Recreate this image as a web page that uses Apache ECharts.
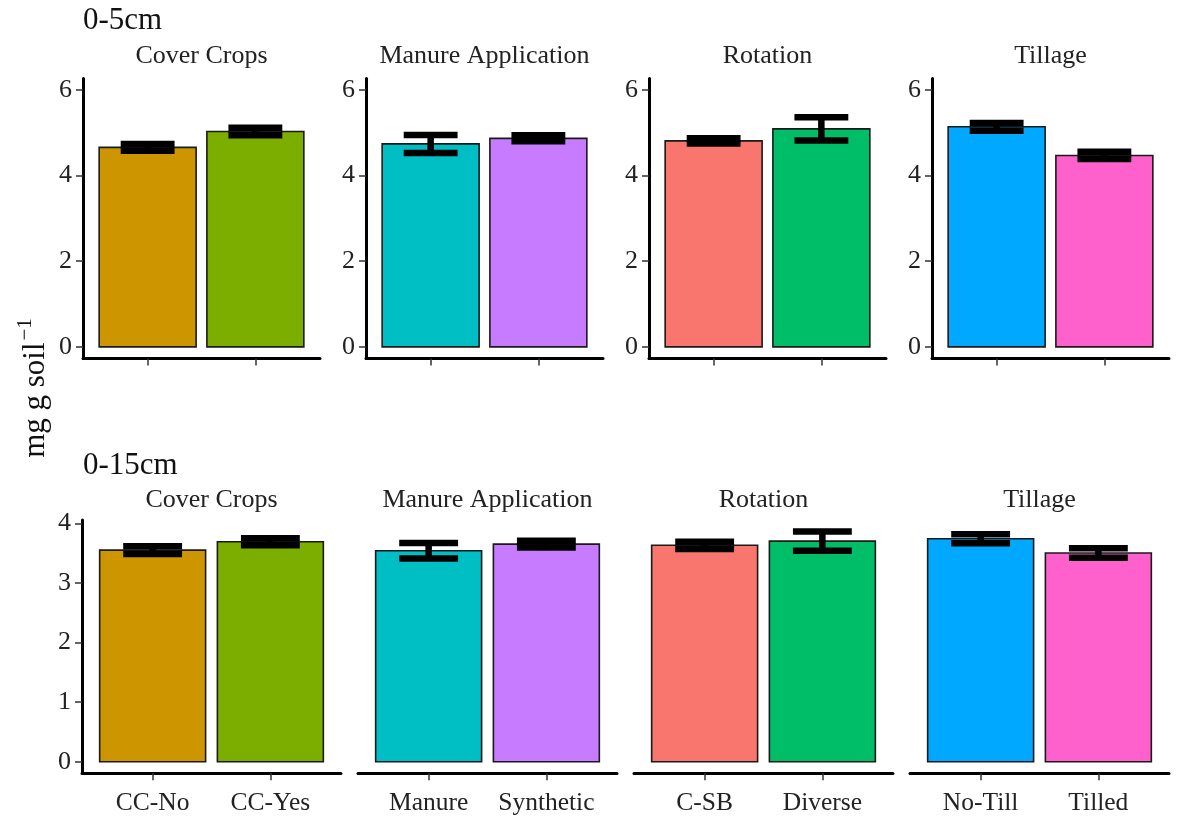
<!DOCTYPE html>
<html>
<head>
<meta charset="utf-8">
<style>html,body{margin:0;padding:0;background:#fff}#c{width:1178px;height:821px}</style>
<script src="https://cdn.jsdelivr.net/npm/echarts@6/dist/echarts.min.js"></script>
</head>
<body>
<div id="c"></div>
<script>
// ---- data ----
const facets = ['Cover Crops', 'Manure Application', 'Rotation', 'Tillage'];
const categories = ['CC-No', 'CC-Yes', 'Manure', 'Synthetic', 'C-SB', 'Diverse', 'No-Till', 'Tilled'];
const barColors = ['#CD9600', '#7CAE00', '#00BFC4', '#C77CFF', '#F8766D', '#00BE67', '#00A9FF', '#FF61CC'];
const mean0to5 = [4.66, 5.03, 4.74, 4.87, 4.81, 5.09, 5.14, 4.47];
const se0to5 = [0.08, 0.09, 0.21, 0.07, 0.06, 0.27, 0.09, 0.085];
const mean0to15 = [3.55, 3.69, 3.54, 3.65, 3.63, 3.70, 3.74, 3.50];
const se0to15 = [0.065, 0.06, 0.13, 0.055, 0.06, 0.16, 0.075, 0.08];
const ticks0to5 = [0, 2, 4, 6];
const ticks0to15 = [0, 1, 2, 3, 4];
const rowTitles = ['0-5cm', '0-15cm'];
const yTitle = 'mg g soil';
const ySup = '\u22121';

// ---- layout ----
const FONT = '"Liberation Serif", "Times New Roman", serif';
const rows = [
  { means: mean0to5, ses: se0to5, ticks: ticks0to5, min: -0.27, max: 6.27, top: 78.4, height: 280,
    left0: 83, pitch: 283, width: 237, showX: false, yAll: true, strip: 56, title: 21 },
  { means: mean0to15, ses: se0to15, ticks: ticks0to15, min: -0.193, max: 4.053, top: 520.1, height: 253.1,
    left0: 82, pitch: 276, width: 259, showX: true, yAll: false, strip: 500, title: 466 }
];

const grids = [], xAxes = [], yAxes = [], series = [], graphics = [];
rows.forEach((r, ri) => {
  graphics.push({ type: 'text', x: 83, y: r.title,
    style: { text: rowTitles[ri], font: '31px ' + FONT, fill: '#111', verticalAlign: 'middle' } });
  facets.forEach((f, fi) => {
    const gi = ri * 4 + fi;
    const left = r.left0 + fi * r.pitch;
    grids.push({ left: left, top: r.top, width: r.width, height: r.height, containLabel: false });
    graphics.push({ type: 'text', x: left + r.width / 2, y: r.strip,
      style: { text: f, font: '26px ' + FONT, fill: '#222', align: 'center', verticalAlign: 'middle' } });
    const cats = [categories[fi * 2], categories[fi * 2 + 1]];
    xAxes.push({
      type: 'value', gridIndex: gi, min: 0.4, max: 2.6,
      axisLine: { show: true, onZero: false, lineStyle: { color: '#000', width: 3 } },
      axisTick: { show: true, customValues: [1, 2], length: 7, lineStyle: { color: '#333', width: 1.5 } },
      axisLabel: { show: r.showX, customValues: [1, 2], margin: 17,
        formatter: v => cats[Math.round(v) - 1] || '',
        fontFamily: FONT, fontSize: 25.5, color: '#222' },
      splitLine: { show: false }
    });
    const showY = r.yAll || fi === 0;
    yAxes.push({
      type: 'value', gridIndex: gi, min: r.min, max: r.max,
      axisLine: { show: showY, lineStyle: { color: '#000', width: 3 } },
      axisTick: { show: showY, customValues: r.ticks, length: 7, lineStyle: { color: '#333', width: 1.5 } },
      axisLabel: { show: showY, customValues: r.ticks, margin: 11, fontFamily: FONT, fontSize: 26, color: '#222' },
      splitLine: { show: false }
    });
    const barData = [0, 1].map(k => ({ value: [k + 1, r.means[fi * 2 + k]], color: barColors[fi * 2 + k] }));
    series.push({
      type: 'custom', xAxisIndex: gi, yAxisIndex: gi, z: 2,
      data: barData.map(d => d.value),
      renderItem: (params, api) => {
        const x = api.value(0), v = api.value(1);
        const p0 = api.coord([x - 0.45, v]);
        const p1 = api.coord([x + 0.45, 0]);
        return { type: 'rect', shape: { x: p0[0], y: p0[1], width: p1[0] - p0[0], height: p1[1] - p0[1] },
          style: { fill: barData[params.dataIndex].color, stroke: '#1a1a1a', lineWidth: 1.6 } };
      }
    });
    const errData = [0, 1].map(k => {
      const m = r.means[fi * 2 + k], s = r.ses[fi * 2 + k];
      return [k + 1, m - s, m + s];
    });
    series.push({
      type: 'custom', xAxisIndex: gi, yAxisIndex: gi, z: 3,
      data: errData,
      renderItem: (params, api) => {
        const x = api.value(0), lo = api.value(1), hi = api.value(2);
        const a = api.coord([x - 0.25, hi]), b = api.coord([x + 0.25, hi]);
        const c = api.coord([x - 0.25, lo]), d = api.coord([x + 0.25, lo]);
        const st = { stroke: '#000', lineWidth: 6.5, lineCap: 'butt' };
        return { type: 'group', children: [
          { type: 'line', shape: { x1: a[0], y1: a[1], x2: b[0], y2: b[1] }, style: st },
          { type: 'line', shape: { x1: c[0], y1: c[1], x2: d[0], y2: d[1] }, style: st },
          { type: 'line', shape: { x1: (a[0] + b[0]) / 2, y1: a[1], x2: (a[0] + b[0]) / 2, y2: c[1] }, style: st }
        ] };
      }
    });
  });
});

graphics.push({
  type: 'text', x: 33, y: 388, rotation: Math.PI / 2,
  style: {
    text: '{a|' + yTitle + '}{s|' + ySup + '}',
    align: 'center', verticalAlign: 'middle',
    rich: {
      a: { font: '31px ' + FONT, fill: '#111', lineHeight: 36, verticalAlign: 'bottom' },
      s: { font: '21px ' + FONT, fill: '#111', lineHeight: 36, verticalAlign: 'top', padding: [0, 0, 0, 2] }
    }
  }
});

const chart = echarts.init(document.getElementById('c'), null, { renderer: 'canvas' });
chart.setOption({
  backgroundColor: '#fff',
  animation: false,
  grid: grids, xAxis: xAxes, yAxis: yAxes, series: series,
  graphic: graphics
});
</script>
</body>
</html>
